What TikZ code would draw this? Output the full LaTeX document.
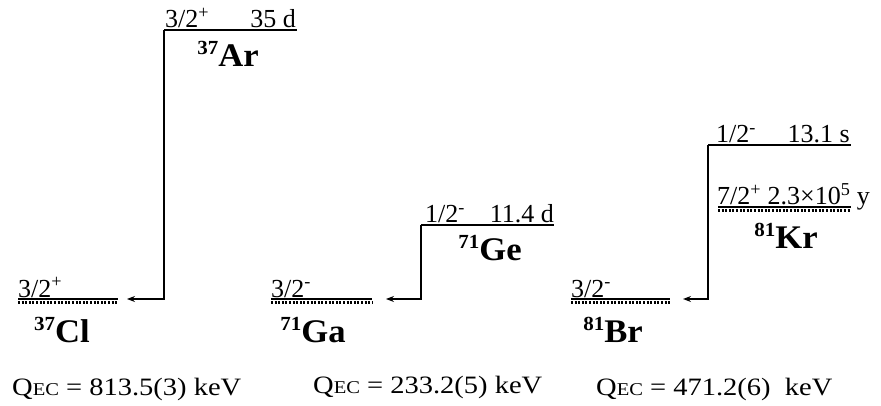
\documentclass[tikz,border=0pt]{standalone}
\usepackage{fontspec}
\setmainfont{Liberation Serif}
\newfontfamily\spinfont[FakeStretch=1.0]{Liberation Serif}
\newfontfamily\nuclfont[FakeStretch=1.05]{Liberation Serif}
\newfontfamily\qfont[FakeStretch=1.14]{Liberation Serif}
\usetikzlibrary{positioning, arrows.meta}

\newcommand{\nuc}[2]{\raisebox{12pt}{\fontsize{20}{20}\selectfont #1}#2}
\newcommand{\qec}{Q{\fontsize{18}{18}\selectfont EC}}

\begin{document}
\begin{tikzpicture}[
    x=1pt, y=-1pt,
    >={Stealth[length=8pt, width=6pt]},
    level/.style={line width=1.2pt},
    gnd/.style={line width=2.6pt, dash pattern=on 2pt off 1.6pt},
    spin/.style={font=\spinfont\fontsize{26}{28}\selectfont, inner sep=0pt, anchor=base west},
    life/.style={spin, anchor=base east},
    nucl/.style={font=\nuclfont\fontsize{33}{35}\selectfont\bfseries, inner sep=0pt, anchor=base},
    qval/.style={font=\qfont\fontsize{25}{27}\selectfont, inner sep=0pt, anchor=base west},
    arr/.style={->, line width=1.2pt},
]
\useasboundingbox (0,0) rectangle (881,406);

% Level end points
\coordinate (cl-l) at (18,299);  \coordinate (cl-r) at (118,299);
\coordinate (ar-l) at (164,30);  \coordinate (ar-r) at (297,30);
\coordinate (ga-l) at (271,299); \coordinate (ga-r) at (372,299);
\coordinate (ge-l) at (421,225); \coordinate (ge-r) at (554,225);
\coordinate (br-l) at (571,299); \coordinate (br-r) at (670,299);
\coordinate (kri-l) at (708,145); \coordinate (kri-r) at (851,145);
\coordinate (kr-l) at (718,207); \coordinate (kr-r) at (851,207);

% Arrow tips
\coordinate (cl-tip) at (127,299);
\coordinate (ga-tip) at (386,299);
\coordinate (br-tip) at (683,299);

% Levels
\draw[level] (cl-l) -- (cl-r);
\draw[gnd] ([yshift=-3.5pt]cl-l) -- ([yshift=-3.5pt]cl-r);
\draw[level] (ar-l) -- (ar-r);
\draw[level] (ga-l) -- (ga-r);
\draw[gnd] ([yshift=-3.5pt]ga-l) -- ([yshift=-3.5pt]ga-r);
\draw[level] (ge-l) -- (ge-r);
\draw[level] (br-l) -- (br-r);
\draw[gnd] ([yshift=-3.5pt]br-l) -- ([yshift=-3.5pt]br-r);
\draw[level] (kri-l) -- (kri-r);
\draw[level] (kr-l) -- (kr-r);
\draw[gnd] ([yshift=-3.5pt]kr-l) -- ([yshift=-3.5pt]kr-r);

% Spin and half-life labels
\node[spin] (cl-spin) at (18,297) {3/2\textsuperscript{+}};
\node[spin] (ar-spin) at (165,28) {3/2\textsuperscript{+}};
\node[life] (ar-life) at (296,28) {35 d};
\node[spin] (ga-spin) at (271,297) {3/2\textsuperscript{-}};
\node[spin] (ge-spin) at (425,223) {1/2\textsuperscript{-}};
\node[life] (ge-life) at (554,223) {11.4 d};
\node[spin] (br-spin) at (571,297) {3/2\textsuperscript{-}};
\node[spin] (kri-spin) at (716,143) {1/2\textsuperscript{-}};
\node[life] (kri-life) at (850,143) {13.1 s};
\node[spin] (kr-spin) at (717,205) {7/2\textsuperscript{+} 2.3×10\textsuperscript{5} y};

% Nuclei
\node[nucl] (cl) at (62,342) {\nuc{37}{Cl}};
\node[nucl] (ar) at (228,67) {\nuc{37}{Ar}};
\node[nucl] (ga) at (313,342) {\nuc{71}{Ga}};
\node[nucl] (ge) at (490,261) {\nuc{71}{Ge}};
\node[nucl] (br) at (613,342) {\nuc{81}{Br}};
\node[nucl] (kr) at (786,248) {\nuc{81}{Kr}};

% Electron capture
\draw[arr] (ar-l) |- (cl-tip);
\draw[arr] (ge-l) |- (ga-tip);
\draw[arr] (kri-l) |- (br-tip);

% Q values
\node[qval] (q-cl) at (12,395) {\qec{} = 813.5(3) keV};
\node[qval] (q-ga) at (313,393) {\qec{} = 233.2(5) keV};
\node[qval] (q-br) at (596,395) {\qec{} = 471.2(6)~~keV};

\end{tikzpicture}
\end{document}
